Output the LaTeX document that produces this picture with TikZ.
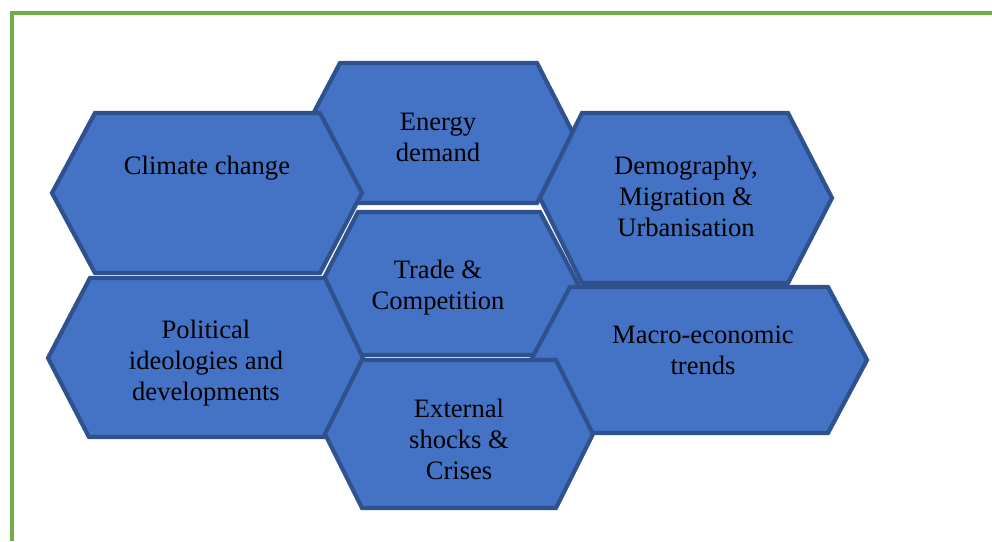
\documentclass[tikz,border=0pt]{standalone}
\usepackage{fontspec}
\setmainfont{Liberation Serif}
\definecolor{hexfill}{HTML}{4472C4}
\definecolor{hexline}{HTML}{2F528F}
\definecolor{framegreen}{HTML}{70AD47}
\tikzset{
  hexa/.style={draw=hexline, fill=hexfill, line width=3pt},
  hextext/.style={align=center, text=black, inner sep=0pt,
    font=\fontsize{18.9}{22}\selectfont}
}
\begin{document}
\begin{tikzpicture}[x=0.025cm,y=-0.025cm]
        \useasboundingbox (0,0) rectangle (992,541);
        % frame
        \draw[framegreen, line width=0.11cm] (12,541) -- (12,13) -- (992,13);

        % back row
        \draw[hexa] (303,133) -- (340,63) -- (537,63) -- (573,133) -- (537,203) -- (340,203) -- cycle;
        \node[hextext] (energy) at (438,137) {Energy\\demand};

        \draw[hexa] (540,198) -- (582,113) -- (788,113) -- (832,198) -- (788,283) -- (582,283) -- cycle;
        \node[hextext] (demography) at (686,196) {Demography,\\Migration \&\\Urbanisation};

        \draw[hexa] (321,284) -- (358,212) -- (540,212) -- (578,284) -- (540,355) -- (358,355) -- cycle;
        \node[hextext] (trade) at (438,288) {Trade \&\\Competition};

        \draw[hexa] (531,360) -- (570,287) -- (828,287) -- (867,360) -- (828,433) -- (570,433) -- cycle;
        \node[hextext] (macro) at (703,350) {Macro-economic\\trends};

        % front row
        \draw[hexa] (52,193) -- (95,113) -- (320,113) -- (362,193) -- (320,273) -- (95,273) -- cycle;
        \node[hextext] (climate) at (207,168) {Climate change};

        \draw[hexa] (48,358) -- (90,278) -- (325,278) -- (363,358) -- (324,437) -- (89,437) -- cycle;
        \node[hextext] (political) at (206,363) {Political\\ideologies and\\developments};

        \draw[hexa] (325,434) -- (362,360) -- (556,360) -- (593,434) -- (556,508) -- (362,508) -- cycle;
        \node[hextext] (external) at (459,439) {External\\shocks \&\\Crises};
\end{tikzpicture}
\end{document}
